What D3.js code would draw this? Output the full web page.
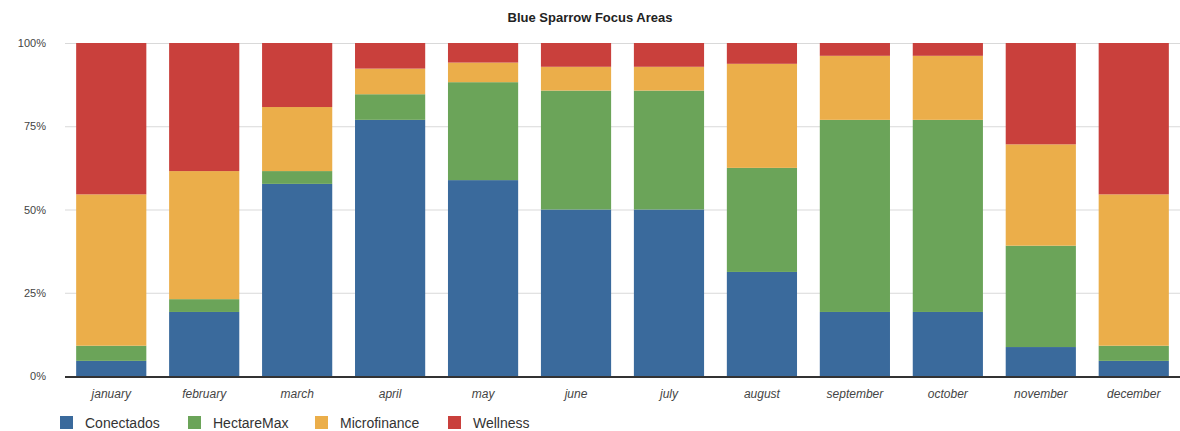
<!DOCTYPE html>
<meta charset="utf-8">
<style>
body { margin: 0; background: #fff; }
text { font-family: "Liberation Sans", Arial, sans-serif; }
.grid line { stroke: #d9d9d9; stroke-width: 1; }
.grid .domain { display: none; }
.axis--y text { font-size: 11px; fill: #444; }
.axis--x text { font-size: 12px; fill: #444; font-style: italic; }
.legend text { font-size: 14px; fill: #333; }
</style>
<svg width="1180" height="431"></svg>
<script src="https://cdn.jsdelivr.net/npm/d3@7"></script>
<script>
var months = ["january", "february", "march", "april", "may", "june",
              "july", "august", "september", "october", "november", "december"];
var seriesNames = ["Conectados", "HectareMax", "Microfinance", "Wellness"];
var colors = ["#3a6a9c", "#6ba459", "#ebae4a", "#c9403c"];

// counts per month
var conectados   = [1, 5, 15, 10, 10, 7, 7, 5, 5, 5, 2, 1];
var hectareMax   = [1, 1, 1, 1, 5, 5, 5, 5, 15, 15, 7, 1];
var microfinance = [10, 10, 5, 1, 1, 1, 1, 5, 5, 5, 7, 10];
var wellness     = [10, 10, 5, 1, 1, 1, 1, 1, 1, 1, 7, 10];
var yTicks = [0, 0.25, 0.5, 0.75, 1];

var svg = d3.select("svg"),
    margin = {top: 43, right: 0, bottom: 55, left: 65},
    width = +svg.attr("width") - margin.left - margin.right,
    height = +svg.attr("height") - margin.top - margin.bottom;

var data = months.map(function(m, i) {
  return {month: m, Conectados: conectados[i], HectareMax: hectareMax[i],
          Microfinance: microfinance[i], Wellness: wellness[i]};
});

var stack = d3.stack().keys(seriesNames).offset(d3.stackOffsetExpand);
var layers = stack(data);

var x = d3.scaleBand().domain(months).range([0, width]).paddingInner(0.245).paddingOuter(0.12);
var y = d3.scaleLinear().domain([0, 1]).range([height, 0]);
var color = d3.scaleOrdinal().domain(seriesNames).range(colors);

var g = svg.append("g").attr("transform", "translate(" + margin.left + "," + margin.top + ")");

svg.append("text")
    .attr("x", 590)
    .attr("y", 22)
    .attr("text-anchor", "middle")
    .style("font-size", "13px")
    .style("font-weight", "bold")
    .style("fill", "#222")
    .text("Blue Sparrow Focus Areas");

g.append("g")
    .attr("class", "grid")
    .call(d3.axisLeft(y).tickValues(yTicks).tickSize(-width).tickFormat(""));

g.selectAll(".layer")
  .data(layers)
  .enter().append("g")
    .attr("class", "layer")
    .attr("fill", function(d) { return color(d.key); })
  .selectAll("rect")
  .data(function(d) { return d; })
  .enter().append("rect")
    .attr("x", function(d) { return x(d.data.month); })
    .attr("y", function(d) { return y(d[1]); })
    .attr("height", function(d) { return y(d[0]) - y(d[1]); })
    .attr("width", x.bandwidth());

g.append("line")
    .attr("x1", 0).attr("x2", width)
    .attr("y1", height + 1).attr("y2", height + 1)
    .attr("stroke", "#333").attr("stroke-width", 2);

var yAxis = g.append("g")
    .attr("class", "axis axis--y")
    .call(d3.axisLeft(y).tickValues(yTicks).tickSize(0).tickPadding(19).tickFormat(d3.format(".0%")));
yAxis.select(".domain").remove();

var xAxis = g.append("g")
    .attr("class", "axis axis--x")
    .attr("transform", "translate(0," + height + ")")
    .call(d3.axisBottom(x).tickSize(0).tickPadding(13));
xAxis.select(".domain").remove();

var legend = svg.append("g")
    .attr("class", "legend")
    .attr("transform", "translate(60,416)");

var legendX = [0, 128, 255, 388];
var item = legend.selectAll("g")
  .data(seriesNames)
  .enter().append("g")
    .attr("transform", function(d, i) { return "translate(" + legendX[i] + ",0)"; });

item.append("rect")
    .attr("width", 13)
    .attr("height", 13)
    .attr("fill", function(d) { return color(d); });

item.append("text")
    .attr("x", 25)
    .attr("y", 12)
    .text(function(d) { return d; });
</script>
